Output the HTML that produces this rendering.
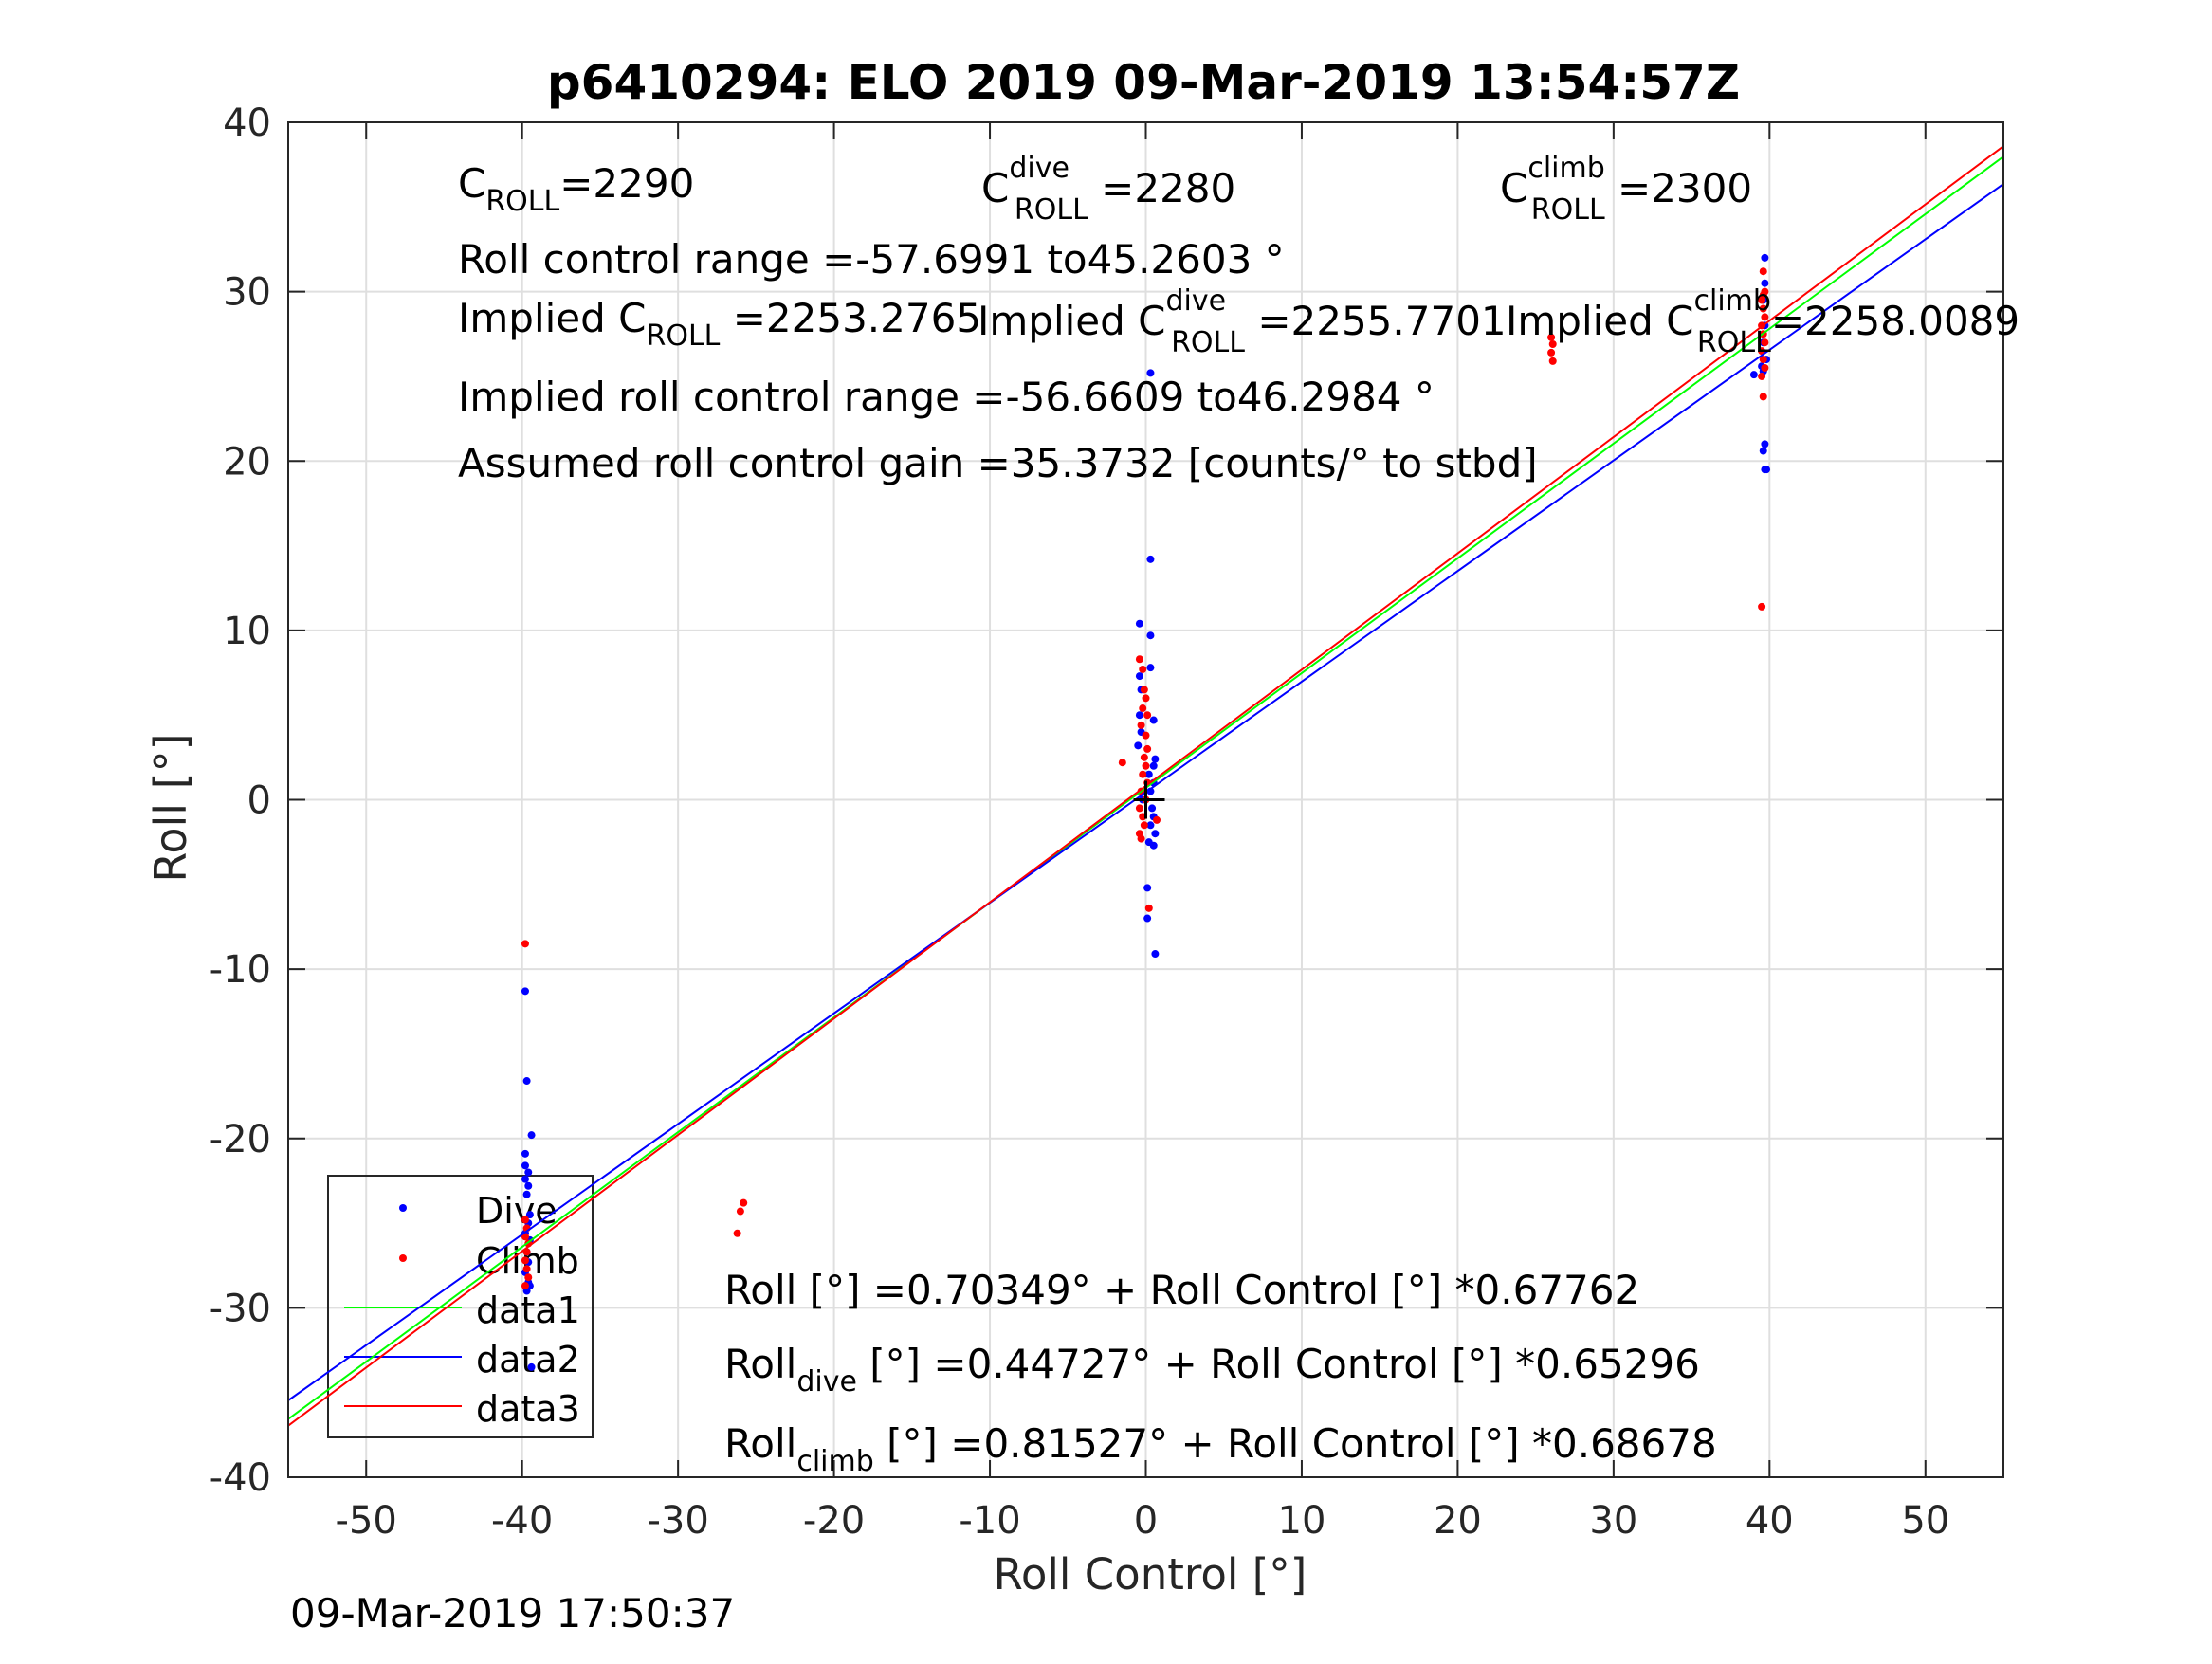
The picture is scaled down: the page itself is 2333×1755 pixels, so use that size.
<!DOCTYPE html>
<html><head><meta charset="utf-8"><style>
html,body{margin:0;padding:0;background:#fff;}
svg text{font-family:"DejaVu Sans","Liberation Sans",sans-serif;}
</style></head><body>
<svg id="chart" width="2333" height="1750" viewBox="0 0 2333 1750" xmlns="http://www.w3.org/2000/svg">
<rect width="2333" height="1750" fill="#fff"/>
<g id="grid"></g>
<g>
<rect x="346" y="1240" width="279" height="276" fill="none" stroke="#262626" stroke-width="2"/>
<circle cx="425" cy="1274" r="4" fill="#0000ff"/>
<text x="502" y="1290" font-size="38">Dive</text>
<circle cx="425" cy="1327" r="4" fill="#ff0000"/>
<text x="502" y="1343" font-size="38">Climb</text>
<line x1="363" y1="1379" x2="487" y2="1379" stroke="#00ff00" stroke-width="2"/>
<text x="502" y="1395" font-size="38">data1</text>
<line x1="363" y1="1431" x2="487" y2="1431" stroke="#0000ff" stroke-width="2"/>
<text x="502" y="1447" font-size="38">data2</text>
<line x1="363" y1="1483" x2="487" y2="1483" stroke="#ff0000" stroke-width="2"/>
<text x="502" y="1499" font-size="38">data3</text>
</g>
<g id="series"></g>
<rect x="304" y="129" width="1809" height="1429" fill="none" stroke="#262626" stroke-width="2"/>
<g id="ticks"></g>
<text x="1206" y="104" font-size="50" font-weight="bold" text-anchor="middle">p6410294: ELO 2019 09-Mar-2019 13:54:57Z</text>
<text x="1213" y="1676" font-size="45" fill="#262626" text-anchor="middle">Roll Control [°]</text>
<text transform="translate(196,852) rotate(-90)" font-size="46" fill="#262626" text-anchor="middle">Roll [°]</text>
<text x="306" y="1716" font-size="42">09-Mar-2019 17:50:37</text>
<g font-size="42">
<text x="483" y="208">C<tspan font-size="30" dy="14">ROLL</tspan><tspan dy="-14">=2290</tspan></text>
<text x="1035" y="213">C<tspan font-size="30" dy="-26">dive</tspan><tspan font-size="30" dx="-58" dy="44">ROLL</tspan><tspan dy="-18"> =2280</tspan></text>
<text x="1582" y="213">C<tspan font-size="30" dy="-26">climb</tspan><tspan font-size="30" dx="-78" dy="44">ROLL</tspan><tspan dy="-18"> =2300</tspan></text>
<text x="483" y="288">Roll control range =-57.6991 to45.2603 °</text>
<text x="483" y="350">Implied C<tspan font-size="30" dy="14">ROLL</tspan><tspan dy="-14"> =2253.2765</tspan></text>
<text x="1031" y="353">Implied C<tspan font-size="30" dy="-26">dive</tspan><tspan font-size="30" dx="-58" dy="44">ROLL</tspan><tspan dy="-18"> =2255.7701</tspan></text>
<text x="1588" y="353">Implied C<tspan font-size="30" dy="-26">climb</tspan><tspan font-size="30" dx="-78" dy="44">ROLL</tspan><tspan dy="-18">=2258.0089</tspan></text>
<text x="483" y="433">Implied roll control range =-56.6609 to46.2984 °</text>
<text x="483" y="503">Assumed roll control gain =35.3732 [counts/° to stbd]</text>
<text x="764" y="1375">Roll [°] =0.70349° + Roll Control [°] *0.67762</text>
<text x="764" y="1453">Roll<tspan font-size="30" dy="14">dive</tspan><tspan dy="-14"> [°] =0.44727° + Roll Control [°] *0.65296</tspan></text>
<text x="764" y="1537">Roll<tspan font-size="30" dy="14">climb</tspan><tspan dy="-14"> [°] =0.81527° + Roll Control [°] *0.68678</tspan></text>
</g>
</svg>
<script>
const xTicks = [-50,-40,-30,-20,-10,0,10,20,30,40,50];
const yTicks = [-40,-30,-20,-10,0,10,20,30,40];
const diveX = [-39.8,-39.7,-39.4,-39.8,-39.8,-39.6,-39.8,-39.6,-39.7,-39.5,-39.6,-39.8,-39.5,-39.7,-39.6,-39.8,-39.6,-39.7,-39.5,-39.4,
  0.3,-0.4,0.3,0.3,-0.4,-0.3,-0.4,0.5,-0.3,-0.5,0.6,0.5,0.2,0.5,0.3,-0.2,0.4,0.5,0.3,0.6,0.2,0.5,0.1,0.1,0.6,0.3,
  39.7,39.7,39.6,39.7,39.6,39.8,39.6,39.5,39.0,39.7,39.6,39.7,39.8];
const diveY = [-11.3,-16.6,-19.8,-20.9,-21.6,-22.0,-22.4,-22.8,-23.3,-24.5,-25.0,-25.6,-26.0,-26.7,-27.3,-27.9,-28.5,-29.0,-28.7,-33.5,
  14.2,10.4,9.7,7.8,7.3,6.5,5.0,4.7,4.0,3.2,2.4,2.0,1.5,1.0,0.5,0.0,-0.5,-1.0,-1.5,-2.0,-2.5,-2.7,-5.2,-7.0,-9.1,25.2,
  32.0,30.5,29.5,28.0,27.0,26.0,25.3,25.6,25.1,21.0,20.6,19.5,19.5];
const climbX = [-39.8,-39.8,-39.7,-39.8,-39.6,-39.7,-39.8,-39.7,-39.6,-39.8,
  -26.0,-26.2,-25.8,26.0,26.1,26.0,26.1,
  -0.4,-0.2,-0.1,0.0,-0.2,0.1,-0.3,0.0,0.1,-0.1,-1.5,0.0,-0.2,0.1,-0.3,0.0,-0.4,-0.2,-0.1,-0.4,-0.3,0.7,0.2,
  39.6,39.7,39.5,39.6,39.7,39.5,39.6,39.7,39.5,39.6,39.7,39.5,39.6,39.5,39.6];
const climbY = [-8.5,-24.8,-25.3,-25.8,-26.2,-26.7,-27.2,-27.7,-28.2,-28.7,
  -24.3,-25.6,-23.8,27.3,26.9,26.4,25.9,
  8.3,7.7,6.5,6.0,5.4,5.0,4.4,3.8,3.0,2.5,2.2,2.0,1.5,1.0,0.5,0.0,-0.5,-1.0,-1.5,-2.0,-2.3,-1.2,-6.4,
  31.2,30.0,29.5,29.0,28.5,28.0,27.5,27.0,26.5,26.0,25.5,25.0,23.8,11.4,29.8];
const fitNames = ['data1','data2','data3'];
const fitIntercepts = [0.70349,0.44727,0.81527];
const fitSlopes = [0.67762,0.65296,0.68678];
const fitColors = ['#00ff00','#0000ff','#ff0000'];
const xRange = [-55,55];

const NS='http://www.w3.org/2000/svg';
const X0=304,X1=2113,Y0=1558,Y1=129;
function sx(v){return X0+(v-(-55))/(110)*(X1-X0);}
function sy(v){return Y0-(v-(-40))/80*(Y0-Y1);}
function mk(tag,attrs,parent){const e=document.createElementNS(NS,tag);for(const k in attrs)e.setAttribute(k,attrs[k]);parent.appendChild(e);return e;}
const grid=document.getElementById('grid'),ticks=document.getElementById('ticks'),series=document.getElementById('series');
xTicks.forEach(v=>{
  const g=mk('line',{x1:sx(v),x2:sx(v),y1:Y1,y2:Y0,stroke:'#dfdfdf','stroke-width':2},grid);
  
  
  const t1=mk('line',{x1:sx(v),x2:sx(v),y1:Y0,y2:Y0-18,stroke:'#262626','stroke-width':2},ticks);
  
  
  const t2=mk('line',{x1:sx(v),x2:sx(v),y1:Y1,y2:Y1+18,stroke:'#262626','stroke-width':2},ticks);
  
  
  const lb=mk('text',{x:sx(v),y:1617,'font-size':40,fill:'#262626','text-anchor':'middle'},ticks);
  lb.textContent=String(v);
  
  
});
yTicks.forEach(v=>{
  const g=mk('line',{x1:X0,x2:X1,y1:sy(v),y2:sy(v),stroke:'#dfdfdf','stroke-width':2},grid);
  
  
  const t1=mk('line',{x1:X0,x2:X0+18,y1:sy(v),y2:sy(v),stroke:'#262626','stroke-width':2},ticks);
  
  
  const t2=mk('line',{x1:X1,x2:X1-18,y1:sy(v),y2:sy(v),stroke:'#262626','stroke-width':2},ticks);
  
  
  const lb=mk('text',{x:286,y:sy(v)+14,'font-size':40,fill:'#262626','text-anchor':'end'},ticks);
  lb.textContent=String(v);
  
  
});
diveX.forEach((x,i)=>{
  const c=mk('circle',{cx:sx(x),cy:sy(diveY[i]),r:4,fill:'#0000ff'},series);
  
  
});
climbX.forEach((x,i)=>{
  const c=mk('circle',{cx:sx(x),cy:sy(climbY[i]),r:4,fill:'#ff0000'},series);
  
  
});
fitNames.forEach((n,i)=>{
  const ya=fitIntercepts[i]+fitSlopes[i]*xRange[0], yb=fitIntercepts[i]+fitSlopes[i]*xRange[1];
  const l=mk('line',{x1:sx(xRange[0]),y1:sy(ya),x2:sx(xRange[1]),y2:sy(yb),stroke:fitColors[i],'stroke-width':2},series);
  
  
});
const cross=mk('path',{d:'M'+(sx(0)-13)+' '+sy(0)+' H'+(sx(0)+20)+' M'+sx(0)+' '+(sy(0)-20)+' V'+(sy(0)+20),stroke:'#000','stroke-width':3},series);


</script>
</body></html>
